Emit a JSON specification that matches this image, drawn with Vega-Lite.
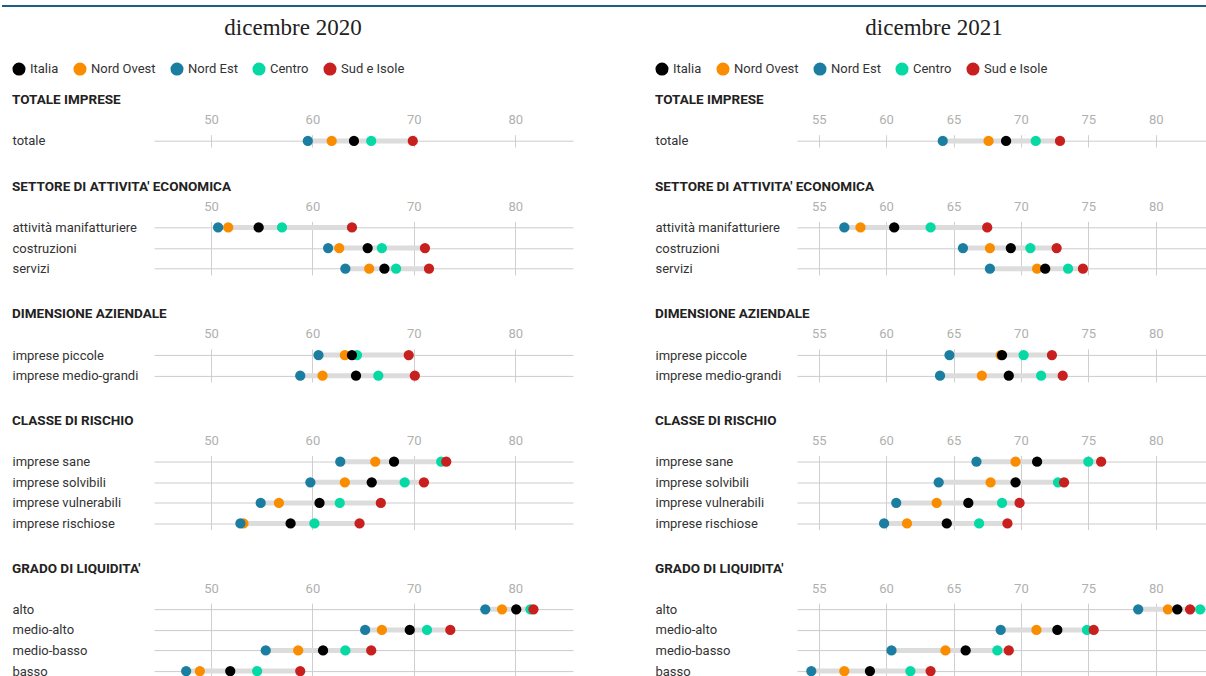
{
  "$schema": "https://vega.github.io/schema/vega-lite/v6.json",
  "background": "white",
  "padding": {"left": 0, "top": 5, "right": 0, "bottom": 0},
  "config": {
    "view": {"stroke": null},
    "font": "Roboto",
    "title": {"anchor": "start", "font": "Roboto", "fontSize": 13.5, "fontWeight": "bold", "color": "#222222", "offset": 7},
    "axisX": {"domain": false, "ticks": false, "tickSize": 0, "labelPadding": 8, "labelColor": "#b0b0b0", "labelFont": "Roboto", "labelFontSize": 13, "grid": true, "gridColor": "#cfcfcf", "gridWidth": 1},
    "axisY": {"domain": false, "ticks": false, "tickSize": 0, "labelAlign": "left", "labelPadding": 142, "labelFont": "Roboto", "labelFontSize": 13, "labelColor": "#333333", "grid": true, "gridColor": "#cccccc", "gridWidth": 1},
    "legend": {"orient": "none", "legendX": -142, "legendY": -72.65, "direction": "horizontal", "padding": 0, "symbolType": "circle", "symbolSize": 170, "symbolStrokeWidth": 0, "symbolOpacity": 1, "labelFont": "Roboto", "labelFontSize": 13, "labelColor": "#333333", "labelOffset": 4, "columnPadding": 14}
  },
  "datasets": {
    "d": [
      {"p":"2020","s":1,"r":"totale","g":"Nord Ovest","v":61.9},
      {"p":"2020","s":1,"r":"totale","g":"Nord Est","v":59.55},
      {"p":"2020","s":1,"r":"totale","g":"Centro","v":65.8},
      {"p":"2020","s":1,"r":"totale","g":"Sud e Isole","v":69.9},
      {"p":"2020","s":1,"r":"totale","g":"Italia","v":64.1},
      {"p":"2020","s":2,"r":"attività manifatturiere","g":"Nord Ovest","v":51.7},
      {"p":"2020","s":2,"r":"attività manifatturiere","g":"Nord Est","v":50.7},
      {"p":"2020","s":2,"r":"attività manifatturiere","g":"Centro","v":57.0},
      {"p":"2020","s":2,"r":"attività manifatturiere","g":"Sud e Isole","v":63.9},
      {"p":"2020","s":2,"r":"attività manifatturiere","g":"Italia","v":54.7},
      {"p":"2020","s":2,"r":"costruzioni","g":"Nord Ovest","v":62.65},
      {"p":"2020","s":2,"r":"costruzioni","g":"Nord Est","v":61.55},
      {"p":"2020","s":2,"r":"costruzioni","g":"Centro","v":66.85},
      {"p":"2020","s":2,"r":"costruzioni","g":"Sud e Isole","v":71.1},
      {"p":"2020","s":2,"r":"costruzioni","g":"Italia","v":65.45},
      {"p":"2020","s":2,"r":"servizi","g":"Nord Ovest","v":65.6},
      {"p":"2020","s":2,"r":"servizi","g":"Nord Est","v":63.25},
      {"p":"2020","s":2,"r":"servizi","g":"Centro","v":68.25},
      {"p":"2020","s":2,"r":"servizi","g":"Sud e Isole","v":71.5},
      {"p":"2020","s":2,"r":"servizi","g":"Italia","v":67.1},
      {"p":"2020","s":3,"r":"imprese piccole","g":"Nord Ovest","v":63.2},
      {"p":"2020","s":3,"r":"imprese piccole","g":"Nord Est","v":60.6},
      {"p":"2020","s":3,"r":"imprese piccole","g":"Centro","v":64.4},
      {"p":"2020","s":3,"r":"imprese piccole","g":"Sud e Isole","v":69.5},
      {"p":"2020","s":3,"r":"imprese piccole","g":"Italia","v":63.9},
      {"p":"2020","s":3,"r":"imprese medio-grandi","g":"Nord Ovest","v":61.0},
      {"p":"2020","s":3,"r":"imprese medio-grandi","g":"Nord Est","v":58.8},
      {"p":"2020","s":3,"r":"imprese medio-grandi","g":"Centro","v":66.5},
      {"p":"2020","s":3,"r":"imprese medio-grandi","g":"Sud e Isole","v":70.1},
      {"p":"2020","s":3,"r":"imprese medio-grandi","g":"Italia","v":64.3},
      {"p":"2020","s":4,"r":"imprese sane","g":"Nord Ovest","v":66.2},
      {"p":"2020","s":4,"r":"imprese sane","g":"Nord Est","v":62.75},
      {"p":"2020","s":4,"r":"imprese sane","g":"Centro","v":72.7},
      {"p":"2020","s":4,"r":"imprese sane","g":"Sud e Isole","v":73.2},
      {"p":"2020","s":4,"r":"imprese sane","g":"Italia","v":68.05},
      {"p":"2020","s":4,"r":"imprese solvibili","g":"Nord Ovest","v":63.2},
      {"p":"2020","s":4,"r":"imprese solvibili","g":"Nord Est","v":59.8},
      {"p":"2020","s":4,"r":"imprese solvibili","g":"Centro","v":69.1},
      {"p":"2020","s":4,"r":"imprese solvibili","g":"Sud e Isole","v":71.0},
      {"p":"2020","s":4,"r":"imprese solvibili","g":"Italia","v":65.85},
      {"p":"2020","s":4,"r":"imprese vulnerabili","g":"Nord Ovest","v":56.7},
      {"p":"2020","s":4,"r":"imprese vulnerabili","g":"Nord Est","v":54.9},
      {"p":"2020","s":4,"r":"imprese vulnerabili","g":"Centro","v":62.7},
      {"p":"2020","s":4,"r":"imprese vulnerabili","g":"Sud e Isole","v":66.75},
      {"p":"2020","s":4,"r":"imprese vulnerabili","g":"Italia","v":60.7},
      {"p":"2020","s":4,"r":"imprese rischiose","g":"Nord Ovest","v":53.2},
      {"p":"2020","s":4,"r":"imprese rischiose","g":"Nord Est","v":52.9},
      {"p":"2020","s":4,"r":"imprese rischiose","g":"Centro","v":60.2},
      {"p":"2020","s":4,"r":"imprese rischiose","g":"Sud e Isole","v":64.65},
      {"p":"2020","s":4,"r":"imprese rischiose","g":"Italia","v":57.85},
      {"p":"2020","s":5,"r":"alto","g":"Nord Ovest","v":78.7},
      {"p":"2020","s":5,"r":"alto","g":"Nord Est","v":77.05},
      {"p":"2020","s":5,"r":"alto","g":"Centro","v":81.5},
      {"p":"2020","s":5,"r":"alto","g":"Sud e Isole","v":81.8},
      {"p":"2020","s":5,"r":"alto","g":"Italia","v":80.1},
      {"p":"2020","s":5,"r":"medio-alto","g":"Nord Ovest","v":66.85},
      {"p":"2020","s":5,"r":"medio-alto","g":"Nord Est","v":65.2},
      {"p":"2020","s":5,"r":"medio-alto","g":"Centro","v":71.3},
      {"p":"2020","s":5,"r":"medio-alto","g":"Sud e Isole","v":73.6},
      {"p":"2020","s":5,"r":"medio-alto","g":"Italia","v":69.6},
      {"p":"2020","s":5,"r":"medio-basso","g":"Nord Ovest","v":58.6},
      {"p":"2020","s":5,"r":"medio-basso","g":"Nord Est","v":55.4},
      {"p":"2020","s":5,"r":"medio-basso","g":"Centro","v":63.25},
      {"p":"2020","s":5,"r":"medio-basso","g":"Sud e Isole","v":65.8},
      {"p":"2020","s":5,"r":"medio-basso","g":"Italia","v":61.05},
      {"p":"2020","s":5,"r":"basso","g":"Nord Ovest","v":48.9},
      {"p":"2020","s":5,"r":"basso","g":"Nord Est","v":47.55},
      {"p":"2020","s":5,"r":"basso","g":"Centro","v":54.55},
      {"p":"2020","s":5,"r":"basso","g":"Sud e Isole","v":58.8},
      {"p":"2020","s":5,"r":"basso","g":"Italia","v":51.9},
      {"p":"2021","s":1,"r":"totale","g":"Nord Ovest","v":67.6},
      {"p":"2021","s":1,"r":"totale","g":"Nord Est","v":64.2},
      {"p":"2021","s":1,"r":"totale","g":"Centro","v":71.1},
      {"p":"2021","s":1,"r":"totale","g":"Sud e Isole","v":72.9},
      {"p":"2021","s":1,"r":"totale","g":"Italia","v":68.9},
      {"p":"2021","s":2,"r":"attività manifatturiere","g":"Nord Ovest","v":58.1},
      {"p":"2021","s":2,"r":"attività manifatturiere","g":"Nord Est","v":56.9},
      {"p":"2021","s":2,"r":"attività manifatturiere","g":"Centro","v":63.3},
      {"p":"2021","s":2,"r":"attività manifatturiere","g":"Sud e Isole","v":67.5},
      {"p":"2021","s":2,"r":"attività manifatturiere","g":"Italia","v":60.6},
      {"p":"2021","s":2,"r":"costruzioni","g":"Nord Ovest","v":67.7},
      {"p":"2021","s":2,"r":"costruzioni","g":"Nord Est","v":65.7},
      {"p":"2021","s":2,"r":"costruzioni","g":"Centro","v":70.7},
      {"p":"2021","s":2,"r":"costruzioni","g":"Sud e Isole","v":72.65},
      {"p":"2021","s":2,"r":"costruzioni","g":"Italia","v":69.25},
      {"p":"2021","s":2,"r":"servizi","g":"Nord Ovest","v":71.2},
      {"p":"2021","s":2,"r":"servizi","g":"Nord Est","v":67.7},
      {"p":"2021","s":2,"r":"servizi","g":"Centro","v":73.5},
      {"p":"2021","s":2,"r":"servizi","g":"Sud e Isole","v":74.6},
      {"p":"2021","s":2,"r":"servizi","g":"Italia","v":71.8},
      {"p":"2021","s":3,"r":"imprese piccole","g":"Nord Ovest","v":68.5},
      {"p":"2021","s":3,"r":"imprese piccole","g":"Nord Est","v":64.7},
      {"p":"2021","s":3,"r":"imprese piccole","g":"Centro","v":70.2},
      {"p":"2021","s":3,"r":"imprese piccole","g":"Sud e Isole","v":72.3},
      {"p":"2021","s":3,"r":"imprese piccole","g":"Italia","v":68.6},
      {"p":"2021","s":3,"r":"imprese medio-grandi","g":"Nord Ovest","v":67.1},
      {"p":"2021","s":3,"r":"imprese medio-grandi","g":"Nord Est","v":64.0},
      {"p":"2021","s":3,"r":"imprese medio-grandi","g":"Centro","v":71.5},
      {"p":"2021","s":3,"r":"imprese medio-grandi","g":"Sud e Isole","v":73.1},
      {"p":"2021","s":3,"r":"imprese medio-grandi","g":"Italia","v":69.1},
      {"p":"2021","s":4,"r":"imprese sane","g":"Nord Ovest","v":69.6},
      {"p":"2021","s":4,"r":"imprese sane","g":"Nord Est","v":66.7},
      {"p":"2021","s":4,"r":"imprese sane","g":"Centro","v":75.0},
      {"p":"2021","s":4,"r":"imprese sane","g":"Sud e Isole","v":75.95},
      {"p":"2021","s":4,"r":"imprese sane","g":"Italia","v":71.2},
      {"p":"2021","s":4,"r":"imprese solvibili","g":"Nord Ovest","v":67.75},
      {"p":"2021","s":4,"r":"imprese solvibili","g":"Nord Est","v":63.9},
      {"p":"2021","s":4,"r":"imprese solvibili","g":"Centro","v":72.75},
      {"p":"2021","s":4,"r":"imprese solvibili","g":"Sud e Isole","v":73.2},
      {"p":"2021","s":4,"r":"imprese solvibili","g":"Italia","v":69.6},
      {"p":"2021","s":4,"r":"imprese vulnerabili","g":"Nord Ovest","v":63.75},
      {"p":"2021","s":4,"r":"imprese vulnerabili","g":"Nord Est","v":60.75},
      {"p":"2021","s":4,"r":"imprese vulnerabili","g":"Centro","v":68.6},
      {"p":"2021","s":4,"r":"imprese vulnerabili","g":"Sud e Isole","v":69.9},
      {"p":"2021","s":4,"r":"imprese vulnerabili","g":"Italia","v":66.1},
      {"p":"2021","s":4,"r":"imprese rischiose","g":"Nord Ovest","v":61.55},
      {"p":"2021","s":4,"r":"imprese rischiose","g":"Nord Est","v":59.85},
      {"p":"2021","s":4,"r":"imprese rischiose","g":"Centro","v":66.9},
      {"p":"2021","s":4,"r":"imprese rischiose","g":"Sud e Isole","v":69.0},
      {"p":"2021","s":4,"r":"imprese rischiose","g":"Italia","v":64.5},
      {"p":"2021","s":5,"r":"alto","g":"Nord Ovest","v":80.9},
      {"p":"2021","s":5,"r":"alto","g":"Nord Est","v":78.7},
      {"p":"2021","s":5,"r":"alto","g":"Sud e Isole","v":82.55},
      {"p":"2021","s":5,"r":"alto","g":"Centro","v":83.3},
      {"p":"2021","s":5,"r":"alto","g":"Italia","v":81.6},
      {"p":"2021","s":5,"r":"medio-alto","g":"Nord Ovest","v":71.15},
      {"p":"2021","s":5,"r":"medio-alto","g":"Nord Est","v":68.5},
      {"p":"2021","s":5,"r":"medio-alto","g":"Centro","v":74.9},
      {"p":"2021","s":5,"r":"medio-alto","g":"Sud e Isole","v":75.4},
      {"p":"2021","s":5,"r":"medio-alto","g":"Italia","v":72.7},
      {"p":"2021","s":5,"r":"medio-basso","g":"Nord Ovest","v":64.4},
      {"p":"2021","s":5,"r":"medio-basso","g":"Nord Est","v":60.4},
      {"p":"2021","s":5,"r":"medio-basso","g":"Centro","v":68.25},
      {"p":"2021","s":5,"r":"medio-basso","g":"Sud e Isole","v":69.1},
      {"p":"2021","s":5,"r":"medio-basso","g":"Italia","v":65.9},
      {"p":"2021","s":5,"r":"basso","g":"Nord Ovest","v":56.9},
      {"p":"2021","s":5,"r":"basso","g":"Nord Est","v":54.45},
      {"p":"2021","s":5,"r":"basso","g":"Centro","v":61.8},
      {"p":"2021","s":5,"r":"basso","g":"Sud e Isole","v":63.3},
      {"p":"2021","s":5,"r":"basso","g":"Italia","v":58.8}
    ]
  },
  "spacing": 8.7,
  "resolve": {"scale": {"x": "independent", "y": "independent", "color": "independent"}, "legend": {"color": "independent"}},
  "vconcat": [
    {
      "width": 1052,
      "height": 2,
      "data": {"values": [{"a": -0.144487, "b": 1}]},
      "mark": {"type": "rule", "color": "#1d5e84", "strokeWidth": 2, "clip": false},
      "encoding": {
        "x": {"field": "a", "type": "quantitative", "scale": {"domain": [0, 1]}, "axis": null},
        "x2": {"field": "b"},
        "y": {"datum": 0.5, "type": "quantitative", "scale": {"domain": [0, 1]}, "axis": null}
      }
    },
    {
      "spacing": 82,
      "resolve": {"scale": {"x": "independent", "y": "independent", "color": "independent"}, "legend": {"color": "independent"}},
      "hconcat": [
        {
          "title": {"text": "dicembre 2020", "font": "Liberation Serif", "fontSize": 23, "fontWeight": "normal", "color": "#222222", "anchor": "middle", "offset": 22.45, "dx": 0.5},
          "spacing": 30.6,
          "resolve": {"scale": {"x": "independent", "y": "independent"}},
          "vconcat": [
            {
              "title": "TOTALE IMPRESE",
              "width": 419, "height": {"step": 20.6},
              "data": {"name": "d"},
              "transform": [{"filter": "datum.p=='2020' && datum.s==1"}],
              "encoding": {"y": {"field": "r", "type": "nominal", "sort": ["totale"], "scale": {"type": "point", "padding": 0.3}, "axis": {"title": null}}},
              "layer": [
                {"mark": {"type": "rule", "color": "#dcdcdc", "strokeWidth": 5}, "encoding": {"x": {"aggregate": "min", "field": "v", "type": "quantitative", "scale": {"domain": [44.38, 85.7], "nice": false, "zero": false}, "axis": {"orient": "top", "values": [50, 60, 70, 80], "title": null}}, "x2": {"aggregate": "max", "field": "v"}}},
                {"mark": {"type": "circle", "size": 105, "opacity": 1}, "encoding": {"x": {"field": "v", "type": "quantitative", "title": null}, "color": {"field": "g", "type": "nominal", "scale": {"domain": ["Italia", "Nord Ovest", "Nord Est", "Centro", "Sud e Isole"], "range": ["#000000", "#fa8c00", "#1b7ea1", "#06d9a4", "#c8201f"]}, "legend": {"title": null}}}}
              ]
            },
            {
              "title": "SETTORE DI ATTIVITA' ECONOMICA",
              "width": 419, "height": {"step": 20.6},
              "data": {"name": "d"},
              "transform": [{"filter": "datum.p=='2020' && datum.s==2"}],
              "encoding": {"y": {"field": "r", "type": "nominal", "sort": ["attività manifatturiere", "costruzioni", "servizi"], "scale": {"type": "point", "padding": 0.3}, "axis": {"title": null}}},
              "layer": [
                {"mark": {"type": "rule", "color": "#dcdcdc", "strokeWidth": 5}, "encoding": {"x": {"aggregate": "min", "field": "v", "type": "quantitative", "scale": {"domain": [44.38, 85.7], "nice": false, "zero": false}, "axis": {"orient": "top", "values": [50, 60, 70, 80], "title": null}}, "x2": {"aggregate": "max", "field": "v"}}},
                {"mark": {"type": "circle", "size": 105, "opacity": 1}, "encoding": {"x": {"field": "v", "type": "quantitative", "title": null}, "color": {"field": "g", "type": "nominal", "scale": {"domain": ["Italia", "Nord Ovest", "Nord Est", "Centro", "Sud e Isole"], "range": ["#000000", "#fa8c00", "#1b7ea1", "#06d9a4", "#c8201f"]}, "legend": {"title": null}}}}
              ]
            },
            {
              "title": "DIMENSIONE AZIENDALE",
              "width": 419, "height": {"step": 20.6},
              "data": {"name": "d"},
              "transform": [{"filter": "datum.p=='2020' && datum.s==3"}],
              "encoding": {"y": {"field": "r", "type": "nominal", "sort": ["imprese piccole", "imprese medio-grandi"], "scale": {"type": "point", "padding": 0.3}, "axis": {"title": null}}},
              "layer": [
                {"mark": {"type": "rule", "color": "#dcdcdc", "strokeWidth": 5}, "encoding": {"x": {"aggregate": "min", "field": "v", "type": "quantitative", "scale": {"domain": [44.38, 85.7], "nice": false, "zero": false}, "axis": {"orient": "top", "values": [50, 60, 70, 80], "title": null}}, "x2": {"aggregate": "max", "field": "v"}}},
                {"mark": {"type": "circle", "size": 105, "opacity": 1}, "encoding": {"x": {"field": "v", "type": "quantitative", "title": null}, "color": {"field": "g", "type": "nominal", "scale": {"domain": ["Italia", "Nord Ovest", "Nord Est", "Centro", "Sud e Isole"], "range": ["#000000", "#fa8c00", "#1b7ea1", "#06d9a4", "#c8201f"]}, "legend": {"title": null}}}}
              ]
            },
            {
              "title": "CLASSE DI RISCHIO",
              "width": 419, "height": {"step": 20.6},
              "data": {"name": "d"},
              "transform": [{"filter": "datum.p=='2020' && datum.s==4"}],
              "encoding": {"y": {"field": "r", "type": "nominal", "sort": ["imprese sane", "imprese solvibili", "imprese vulnerabili", "imprese rischiose"], "scale": {"type": "point", "padding": 0.3}, "axis": {"title": null}}},
              "layer": [
                {"mark": {"type": "rule", "color": "#dcdcdc", "strokeWidth": 5}, "encoding": {"x": {"aggregate": "min", "field": "v", "type": "quantitative", "scale": {"domain": [44.38, 85.7], "nice": false, "zero": false}, "axis": {"orient": "top", "values": [50, 60, 70, 80], "title": null}}, "x2": {"aggregate": "max", "field": "v"}}},
                {"mark": {"type": "circle", "size": 105, "opacity": 1}, "encoding": {"x": {"field": "v", "type": "quantitative", "title": null}, "color": {"field": "g", "type": "nominal", "scale": {"domain": ["Italia", "Nord Ovest", "Nord Est", "Centro", "Sud e Isole"], "range": ["#000000", "#fa8c00", "#1b7ea1", "#06d9a4", "#c8201f"]}, "legend": {"title": null}}}}
              ]
            },
            {
              "title": "GRADO DI LIQUIDITA'",
              "width": 419, "height": {"step": 20.6},
              "data": {"name": "d"},
              "transform": [{"filter": "datum.p=='2020' && datum.s==5"}],
              "encoding": {"y": {"field": "r", "type": "nominal", "sort": ["alto", "medio-alto", "medio-basso", "basso"], "scale": {"type": "point", "padding": 0.3}, "axis": {"title": null}}},
              "layer": [
                {"mark": {"type": "rule", "color": "#dcdcdc", "strokeWidth": 5}, "encoding": {"x": {"aggregate": "min", "field": "v", "type": "quantitative", "scale": {"domain": [44.38, 85.7], "nice": false, "zero": false}, "axis": {"orient": "top", "values": [50, 60, 70, 80], "title": null}}, "x2": {"aggregate": "max", "field": "v"}}},
                {"mark": {"type": "circle", "size": 105, "opacity": 1}, "encoding": {"x": {"field": "v", "type": "quantitative", "title": null}, "color": {"field": "g", "type": "nominal", "scale": {"domain": ["Italia", "Nord Ovest", "Nord Est", "Centro", "Sud e Isole"], "range": ["#000000", "#fa8c00", "#1b7ea1", "#06d9a4", "#c8201f"]}, "legend": {"title": null}}}}
              ]
            }
          ]
        },
        {
          "title": {"text": "dicembre 2021", "font": "Liberation Serif", "fontSize": 23, "fontWeight": "normal", "color": "#222222", "anchor": "middle", "offset": 22.45, "dx": 3.5},
          "spacing": 30.6,
          "resolve": {"scale": {"x": "independent", "y": "independent"}},
          "vconcat": [
            {
              "title": "TOTALE IMPRESE",
              "width": 409, "height": {"step": 20.6},
              "data": {"name": "d"},
              "transform": [{"filter": "datum.p=='2021' && datum.s==1"}],
              "encoding": {"y": {"field": "r", "type": "nominal", "sort": ["totale"], "scale": {"type": "point", "padding": 0.3}, "axis": {"title": null}}},
              "layer": [
                {"mark": {"type": "rule", "color": "#dcdcdc", "strokeWidth": 5}, "encoding": {"x": {"aggregate": "min", "field": "v", "type": "quantitative", "scale": {"domain": [53.39, 83.73], "nice": false, "zero": false}, "axis": {"orient": "top", "values": [55, 60, 65, 70, 75, 80], "title": null}}, "x2": {"aggregate": "max", "field": "v"}}},
                {"mark": {"type": "circle", "size": 105, "opacity": 1}, "encoding": {"x": {"field": "v", "type": "quantitative", "title": null}, "color": {"field": "g", "type": "nominal", "scale": {"domain": ["Italia", "Nord Ovest", "Nord Est", "Centro", "Sud e Isole"], "range": ["#000000", "#fa8c00", "#1b7ea1", "#06d9a4", "#c8201f"]}, "legend": {"title": null}}}}
              ]
            },
            {
              "title": "SETTORE DI ATTIVITA' ECONOMICA",
              "width": 409, "height": {"step": 20.6},
              "data": {"name": "d"},
              "transform": [{"filter": "datum.p=='2021' && datum.s==2"}],
              "encoding": {"y": {"field": "r", "type": "nominal", "sort": ["attività manifatturiere", "costruzioni", "servizi"], "scale": {"type": "point", "padding": 0.3}, "axis": {"title": null}}},
              "layer": [
                {"mark": {"type": "rule", "color": "#dcdcdc", "strokeWidth": 5}, "encoding": {"x": {"aggregate": "min", "field": "v", "type": "quantitative", "scale": {"domain": [53.39, 83.73], "nice": false, "zero": false}, "axis": {"orient": "top", "values": [55, 60, 65, 70, 75, 80], "title": null}}, "x2": {"aggregate": "max", "field": "v"}}},
                {"mark": {"type": "circle", "size": 105, "opacity": 1}, "encoding": {"x": {"field": "v", "type": "quantitative", "title": null}, "color": {"field": "g", "type": "nominal", "scale": {"domain": ["Italia", "Nord Ovest", "Nord Est", "Centro", "Sud e Isole"], "range": ["#000000", "#fa8c00", "#1b7ea1", "#06d9a4", "#c8201f"]}, "legend": {"title": null}}}}
              ]
            },
            {
              "title": "DIMENSIONE AZIENDALE",
              "width": 409, "height": {"step": 20.6},
              "data": {"name": "d"},
              "transform": [{"filter": "datum.p=='2021' && datum.s==3"}],
              "encoding": {"y": {"field": "r", "type": "nominal", "sort": ["imprese piccole", "imprese medio-grandi"], "scale": {"type": "point", "padding": 0.3}, "axis": {"title": null}}},
              "layer": [
                {"mark": {"type": "rule", "color": "#dcdcdc", "strokeWidth": 5}, "encoding": {"x": {"aggregate": "min", "field": "v", "type": "quantitative", "scale": {"domain": [53.39, 83.73], "nice": false, "zero": false}, "axis": {"orient": "top", "values": [55, 60, 65, 70, 75, 80], "title": null}}, "x2": {"aggregate": "max", "field": "v"}}},
                {"mark": {"type": "circle", "size": 105, "opacity": 1}, "encoding": {"x": {"field": "v", "type": "quantitative", "title": null}, "color": {"field": "g", "type": "nominal", "scale": {"domain": ["Italia", "Nord Ovest", "Nord Est", "Centro", "Sud e Isole"], "range": ["#000000", "#fa8c00", "#1b7ea1", "#06d9a4", "#c8201f"]}, "legend": {"title": null}}}}
              ]
            },
            {
              "title": "CLASSE DI RISCHIO",
              "width": 409, "height": {"step": 20.6},
              "data": {"name": "d"},
              "transform": [{"filter": "datum.p=='2021' && datum.s==4"}],
              "encoding": {"y": {"field": "r", "type": "nominal", "sort": ["imprese sane", "imprese solvibili", "imprese vulnerabili", "imprese rischiose"], "scale": {"type": "point", "padding": 0.3}, "axis": {"title": null}}},
              "layer": [
                {"mark": {"type": "rule", "color": "#dcdcdc", "strokeWidth": 5}, "encoding": {"x": {"aggregate": "min", "field": "v", "type": "quantitative", "scale": {"domain": [53.39, 83.73], "nice": false, "zero": false}, "axis": {"orient": "top", "values": [55, 60, 65, 70, 75, 80], "title": null}}, "x2": {"aggregate": "max", "field": "v"}}},
                {"mark": {"type": "circle", "size": 105, "opacity": 1}, "encoding": {"x": {"field": "v", "type": "quantitative", "title": null}, "color": {"field": "g", "type": "nominal", "scale": {"domain": ["Italia", "Nord Ovest", "Nord Est", "Centro", "Sud e Isole"], "range": ["#000000", "#fa8c00", "#1b7ea1", "#06d9a4", "#c8201f"]}, "legend": {"title": null}}}}
              ]
            },
            {
              "title": "GRADO DI LIQUIDITA'",
              "width": 409, "height": {"step": 20.6},
              "data": {"name": "d"},
              "transform": [{"filter": "datum.p=='2021' && datum.s==5"}],
              "encoding": {"y": {"field": "r", "type": "nominal", "sort": ["alto", "medio-alto", "medio-basso", "basso"], "scale": {"type": "point", "padding": 0.3}, "axis": {"title": null}}},
              "layer": [
                {"mark": {"type": "rule", "color": "#dcdcdc", "strokeWidth": 5}, "encoding": {"x": {"aggregate": "min", "field": "v", "type": "quantitative", "scale": {"domain": [53.39, 83.73], "nice": false, "zero": false}, "axis": {"orient": "top", "values": [55, 60, 65, 70, 75, 80], "title": null}}, "x2": {"aggregate": "max", "field": "v"}}},
                {"mark": {"type": "circle", "size": 105, "opacity": 1}, "encoding": {"x": {"field": "v", "type": "quantitative", "title": null}, "color": {"field": "g", "type": "nominal", "scale": {"domain": ["Italia", "Nord Ovest", "Nord Est", "Centro", "Sud e Isole"], "range": ["#000000", "#fa8c00", "#1b7ea1", "#06d9a4", "#c8201f"]}, "legend": {"title": null}}}}
              ]
            }
          ]
        }
      ]
    }
  ]
}
